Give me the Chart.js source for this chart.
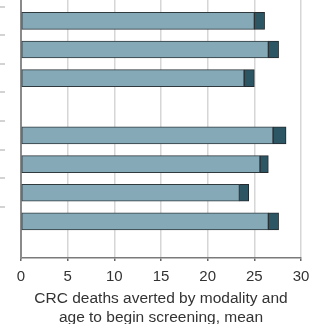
<!DOCTYPE html>
<html>
<head>
<meta charset="utf-8">
<script src="https://cdn.jsdelivr.net/npm/chart.js@4"></script>
<style>
  html, body { margin: 0; padding: 0; background: #fff; overflow: hidden; }
  #wrap { width: 310px; height: 327px; }
</style>
</head>
<body>
<div id="wrap"><canvas id="barChart" width="310" height="327"></canvas></div>
<script>
// row slot of each bar (slot 3 is the empty gap between the two groups)
var rowSlots = [0, 1, 2, 4, 5, 6, 7];
var baseValues = [25.0, 26.5, 23.9, 27.0, 25.6, 23.4, 26.5];
var extraValues = [1.1, 1.1, 1.1, 1.4, 0.9, 1.0, 1.1];
var xTitle = ['CRC deaths averted by modality and', 'age to begin screening, mean'];

function toPoints(vals) {
    return vals.map(function (v, i) { return { x: v, y: rowSlots[i] }; });
}

// small marks at the far left between rows (the row labels are cut off)
var rowMarks = {
    id: 'rowMarks',
    afterDraw: function (chart) {
        var ctx = chart.ctx, y = chart.scales.y;
        ctx.save();
        ctx.strokeStyle = '#c4c4c4';
        ctx.lineWidth = 1.5;
        for (var s = -0.5; s < 7; s += 1) {
            var py = Math.round(y.getPixelForValue(s));
            ctx.beginPath();
            ctx.moveTo(0, py);
            ctx.lineTo(5, py);
            ctx.stroke();
        }
        ctx.restore();
    }
};

var barCtx = document.getElementById('barChart').getContext('2d');
var barChart = new Chart(barCtx, {
    type: 'bar',
    data: {
        datasets: [{
            label: 'Base',
            data: toPoints(baseValues),
            backgroundColor: '#86a9b8',
            borderColor: '#2f3a3e',
            borderWidth: 1,
            borderSkipped: false
        }, {
            label: 'Extra',
            data: toPoints(extraValues),
            backgroundColor: '#2d5664',
            borderColor: '#23292c',
            borderWidth: 1,
            borderSkipped: false
        }]
    },
    options: {
        indexAxis: 'y',
        responsive: false,
        animation: false,
        layout: { padding: { top: 0, right: 0, left: 0, bottom: 0 } },
        barThickness: 17,
        plugins: { legend: { display: false }, tooltip: { enabled: false } },
        scales: {
            x: {
                type: 'linear',
                stacked: true,
                min: 0,
                max: 30,
                ticks: { stepSize: 5, color: '#333', font: { family: 'Liberation Sans', size: 15 }, padding: 7 },
                grid: { color: '#d6d6d6', lineWidth: 1.5, tickColor: '#666', tickLength: 3 },
                border: { color: '#7a7a7a', width: 1.5 },
                title: {
                    display: true,
                    text: xTitle,
                    color: '#333',
                    font: { family: 'Liberation Sans', size: 15.5, lineHeight: 1.2 },
                    padding: { top: 4, bottom: 0 }
                },
                afterFit: function (s) {
                    s.height = 69;
                    s.paddingLeft = 0;
                    s.paddingRight = 9;
                }
            },
            y: {
                type: 'linear',
                stacked: true,
                reverse: true,
                offset: false,
                min: -0.73,
                max: 8.28,
                grid: { display: false },
                border: { color: '#8a8a8a', width: 2 },
                ticks: { display: false },
                afterFit: function (s) { s.width = 21; }
            }
        }
    },
    plugins: [rowMarks]
});
</script>
</body>
</html>
